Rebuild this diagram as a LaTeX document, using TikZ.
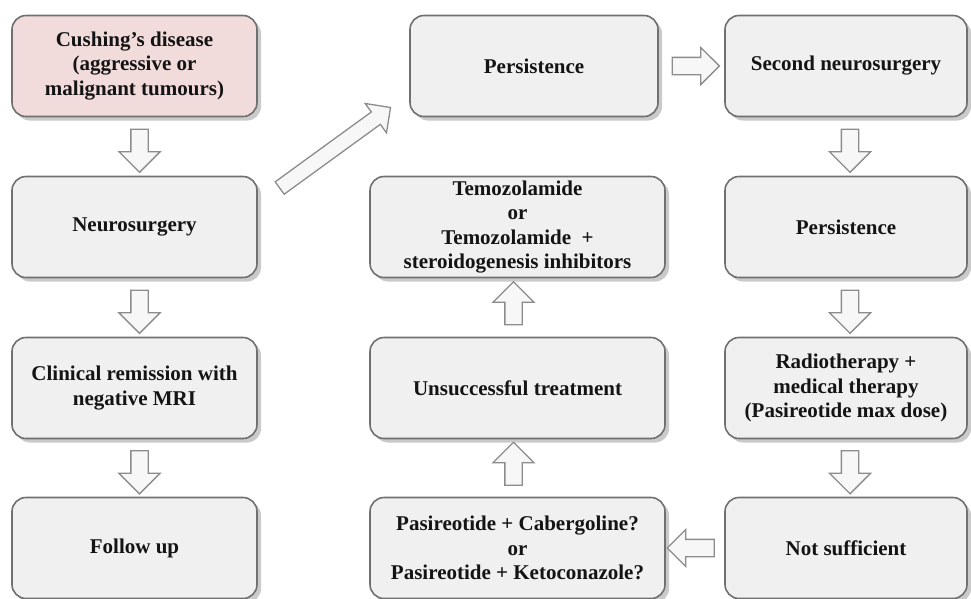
\documentclass[tikz,border=0pt]{standalone}
\usepackage{fontspec}
\setmainfont{Liberation Serif}[BoldFont={Liberation Serif Bold}]
\usetikzlibrary{shapes.arrows,shadows,calc}
\definecolor{boxfill}{HTML}{F0F0F0}
\definecolor{boxline}{HTML}{707070}
\definecolor{startfill}{HTML}{F2DCDB}
\definecolor{arrline}{HTML}{8C8C8C}
\definecolor{arrfill}{HTML}{F7F7F7}

\begin{document}
\begin{tikzpicture}[x=1pt, y=-1pt,
  box/.style={draw=boxline, line width=1.6pt, fill=boxfill, rounded corners=14pt,
              minimum width=245pt, minimum height=101pt, inner sep=2pt, align=center,
              text=black!92, font=\fontsize{21}{24.3}\selectfont\bfseries,
              drop shadow={shadow xshift=4pt, shadow yshift=-4pt, opacity=0.35, fill=black!60}},
  wide/.style={box, minimum width=295pt},
  barrow/.style={single arrow, draw=arrline, line width=1.3pt, fill=arrfill,
                 inner sep=0pt, inner ysep=8pt, minimum height=43pt,
                 single arrow head extend=12pt}]
\useasboundingbox (0,0) rectangle (971,598);
% left column
\node[box, fill=startfill] (cush) at (134.5,66) {Cushing’s disease\\(aggressive or\\malignant tumours)};
\node[box] (neuro) at (134.5,227) {Neurosurgery};
\node[box] (remis) at (134.5,388) {Clinical remission with\\negative MRI};
\node[box] (follow) at (134.5,548) {Follow up};
% middle column
\node[box, minimum width=248pt] (pers1) at (534,66) {Persistence};
\node[wide] (temo) at (517.5,227) {Temozolamide\\or\\Temozolamide\ \ +\\steroidogenesis inhibitors};
\node[wide] (unsucc) at (517.5,388) {Unsuccessful treatment};
\node[wide] (pasi) at (517.5,548) {Pasireotide + Cabergoline?\\or\\Pasireotide + Ketoconazole?};
% right column
\node[box, minimum width=242pt] (second) at (846,66) {Second neurosurgery};
\node[box, minimum width=242pt] (pers2) at (846,227) {Persistence};
\node[box, minimum width=242pt] (radio) at (846,388) {Radiotherapy +\\medical therapy\\(Pasireotide max dose)};
\node[box, minimum width=242pt] (notsuf) at (846,548) {Not sufficient};
% block arrows
\node[barrow, rotate=-90, yshift=5pt] (a1) at ($(cush.south)!0.5!(neuro.north)$) {};
\node[barrow, rotate=-90, yshift=5pt] (a2) at ($(neuro.south)!0.5!(remis.north)$) {};
\node[barrow, rotate=-90, yshift=5pt] (a3) at ($(remis.south)!0.5!(follow.north)$) {};
\node[barrow, rotate=36, minimum height=137pt, inner ysep=7pt,
      single arrow head extend=10.5pt] (a4) at (332,150) {};
\node[barrow, minimum height=47pt, single arrow head extend=10pt] (a5)
      at ($(pers1.east)!0.5!(second.west)$) {};
\node[barrow, rotate=-90, yshift=4pt] (a6) at ($(second.south)!0.5!(pers2.north)$) {};
\node[barrow, rotate=-90, yshift=4pt] (a7) at ($(pers2.south)!0.5!(radio.north)$) {};
\node[barrow, rotate=-90, yshift=4pt] (a8) at ($(radio.south)!0.5!(notsuf.north)$) {};
\node[barrow, rotate=180, minimum height=47pt, single arrow head extend=10pt] (a9)
      at ($(notsuf.west)!0.5!(pasi.east)$) {};
\node[barrow, rotate=90, yshift=4pt] (a10) at ($(pasi.north)!0.5!(unsucc.south)$) {};
\node[barrow, rotate=90, yshift=4pt] (a11) at ($(unsucc.north)!0.5!(temo.south)$) {};
\end{tikzpicture}
\end{document}
